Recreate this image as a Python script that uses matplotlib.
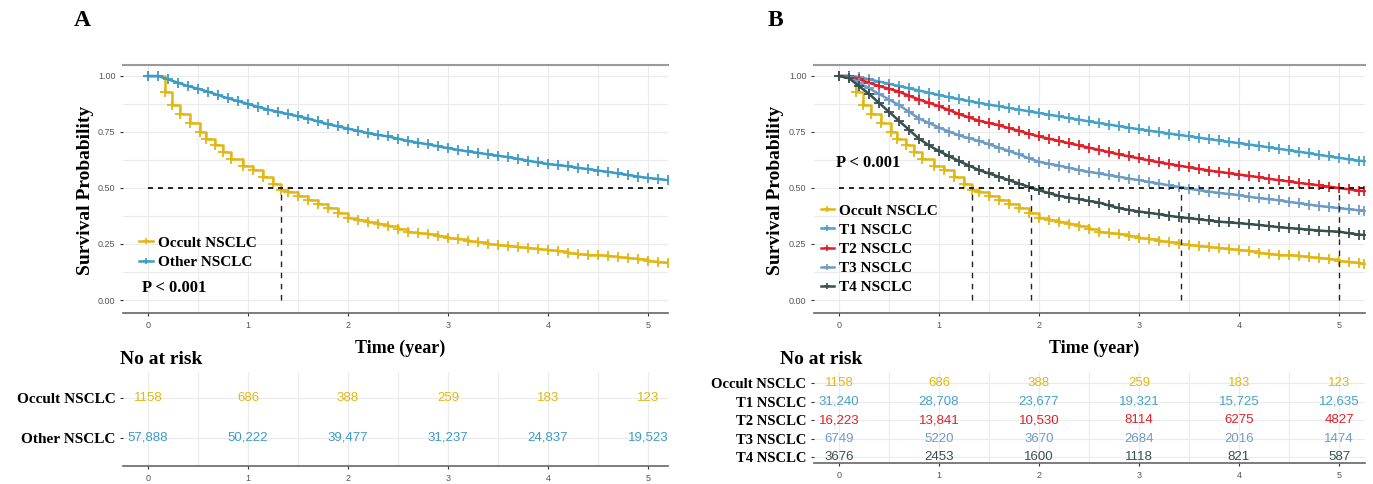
import matplotlib
matplotlib.use("Agg")
import matplotlib.pyplot as plt
from matplotlib.lines import Line2D

# ---- data ----
t_grid = [0.0, 0.1, 0.2, 0.3, 0.4, 0.5, 0.6, 0.7, 0.8, 0.9,
          1.0, 1.1, 1.2, 1.3, 1.4, 1.5, 1.6, 1.7, 1.8, 1.9,
          2.0, 2.1, 2.2, 2.3, 2.4, 2.5, 2.6, 2.7, 2.8, 2.9,
          3.0, 3.1, 3.2, 3.3, 3.4, 3.5, 3.6, 3.7, 3.8, 3.9,
          4.0, 4.1, 4.2, 4.3, 4.4, 4.5, 4.6, 4.7, 4.8, 4.9,
          5.0, 5.1, 5.2, 5.25]

occult_t = [0, 0.17, 0.24, 0.32, 0.42, 0.52, 0.58, 0.67, 0.75, 0.83, 0.95, 1.05,
            1.15, 1.25, 1.33, 1.4, 1.5, 1.6, 1.7, 1.8, 1.9, 2.0, 2.1, 2.2, 2.3,
            2.4, 2.5, 2.6, 2.7, 2.8, 2.9, 3.0, 3.1, 3.2, 3.3, 3.4, 3.5, 3.6, 3.7,
            3.8, 3.9, 4.0, 4.1, 4.2, 4.3, 4.4, 4.5, 4.6, 4.7, 4.8, 4.9, 5.0, 5.1,
            5.2, 5.25]
occult_s = [1.0, 0.93, 0.87, 0.83, 0.79, 0.75, 0.72, 0.69, 0.66, 0.63, 0.60, 0.58,
            0.55, 0.52, 0.49, 0.48, 0.465, 0.445, 0.43, 0.41, 0.39, 0.365, 0.357,
            0.35, 0.34, 0.33, 0.317, 0.305, 0.30, 0.295, 0.287, 0.278, 0.271,
            0.265, 0.258, 0.252, 0.247, 0.242, 0.237, 0.232, 0.227, 0.222, 0.217,
            0.212, 0.207, 0.203, 0.199, 0.195, 0.19, 0.186, 0.181, 0.176, 0.17,
            0.164, 0.162]

other_s = [1.0, 1.0, 0.985, 0.97, 0.955, 0.943, 0.93, 0.915, 0.90, 0.888,
           0.875, 0.862, 0.85, 0.84, 0.83, 0.82, 0.81, 0.797, 0.785, 0.775,
           0.765, 0.755, 0.745, 0.737, 0.73, 0.72, 0.71, 0.702, 0.695, 0.686,
           0.678, 0.67, 0.663, 0.657, 0.65, 0.644, 0.638, 0.63, 0.622, 0.614,
           0.607, 0.602, 0.597, 0.59, 0.584, 0.578, 0.572, 0.565, 0.558, 0.551,
           0.545, 0.54, 0.535, 0.533]
t1_s = [1.0, 1.0, 0.995, 0.985, 0.975, 0.965, 0.955, 0.945, 0.935, 0.925,
        0.915, 0.905, 0.897, 0.888, 0.88, 0.872, 0.865, 0.857, 0.85, 0.842,
        0.835, 0.827, 0.82, 0.812, 0.805, 0.797, 0.79, 0.783, 0.776, 0.769,
        0.762, 0.756, 0.75, 0.743, 0.737, 0.731, 0.725, 0.718, 0.712, 0.706,
        0.70, 0.694, 0.688, 0.681, 0.675, 0.668, 0.662, 0.655, 0.648, 0.641,
        0.635, 0.628, 0.622, 0.62]
t2_s = [1.0, 1.0, 0.985, 0.97, 0.955, 0.943, 0.93, 0.912, 0.895, 0.88,
        0.865, 0.848, 0.83, 0.815, 0.80, 0.79, 0.78, 0.767, 0.755, 0.742,
        0.73, 0.72, 0.71, 0.70, 0.69, 0.68, 0.67, 0.66, 0.65, 0.641,
        0.632, 0.623, 0.615, 0.607, 0.60, 0.592, 0.585, 0.578, 0.572, 0.566,
        0.56, 0.554, 0.548, 0.541, 0.535, 0.529, 0.523, 0.517, 0.512, 0.506,
        0.50, 0.494, 0.488, 0.486]
t3_s = [1.0, 0.995, 0.97, 0.945, 0.92, 0.895, 0.87, 0.84, 0.81, 0.79,
        0.77, 0.752, 0.735, 0.722, 0.71, 0.695, 0.68, 0.665, 0.65, 0.632,
        0.617, 0.608, 0.60, 0.59, 0.58, 0.572, 0.565, 0.557, 0.55, 0.542,
        0.535, 0.527, 0.52, 0.512, 0.505, 0.497, 0.49, 0.484, 0.478, 0.473,
        0.468, 0.461, 0.455, 0.45, 0.445, 0.438, 0.432, 0.426, 0.42, 0.415,
        0.41, 0.405, 0.40, 0.398]
t4_s = [1.0, 0.99, 0.955, 0.92, 0.88, 0.84, 0.80, 0.76, 0.72, 0.69,
        0.665, 0.642, 0.62, 0.60, 0.58, 0.565, 0.55, 0.535, 0.52, 0.505,
        0.49, 0.477, 0.465, 0.457, 0.45, 0.442, 0.435, 0.422, 0.41, 0.402,
        0.395, 0.389, 0.383, 0.376, 0.37, 0.365, 0.36, 0.355, 0.35, 0.346,
        0.343, 0.339, 0.335, 0.33, 0.325, 0.321, 0.318, 0.314, 0.31, 0.307,
        0.305, 0.298, 0.292, 0.29]

medians_a = [1.33]
medians_b = [1.33, 1.92, 3.42, 5.0]

risk_times = [0, 1, 2, 3, 4, 5]
groups_a = ["Occult NSCLC", "Other NSCLC"]
risk_a = [["1158", "686", "388", "259", "183", "123"],
          ["57,888", "50,222", "39,477", "31,237", "24,837", "19,523"]]
groups_b = ["Occult NSCLC", "T1 NSCLC", "T2 NSCLC", "T3 NSCLC", "T4 NSCLC"]
risk_b = [["1158", "686", "388", "259", "183", "123"],
          ["31,240", "28,708", "23,677", "19,321", "15,725", "12,635"],
          ["16,223", "13,841", "10,530", "8114", "6275", "4827"],
          ["6749", "5220", "3670", "2684", "2016", "1474"],
          ["3676", "2453", "1600", "1118", "821", "587"]]

c_occ = "#E2B714"
c_oth = "#3D9CC6"
c_t1 = "#46A2C8"
c_t2 = "#E0202A"
c_t3 = "#6E9CC4"
c_t4 = "#37504F"

W, H = 1373, 484
SERIF = "Liberation Serif"
NARROW = ["Liberation Sans Narrow", "Liberation Sans", "DejaVu Sans"]

fig = plt.figure(figsize=(W / 100, H / 100), dpi=100)


def px_axes(l, t, r, b):
    return fig.add_axes([l / W, 1 - b / H, (r - l) / W, (b - t) / H])


def style_axes(ax, xlim, ylim):
    ax.set_xlim(*xlim)
    ax.set_ylim(*ylim)
    for s in ["left", "right"]:
        ax.spines[s].set_visible(False)
    ax.spines["bottom"].set_color("#666666")
    ax.spines["bottom"].set_linewidth(1.2)
    ax.spines["top"].set_color("#9a9a9a")
    ax.spines["top"].set_linewidth(1.5)
    ax.set_xticks(risk_times)
    ax.set_xticks([0.5, 1.5, 2.5, 3.5, 4.5], minor=True)
    ax.grid(True, which="both", color="#ebebeb", lw=0.8)
    ax.set_axisbelow(True)
    ax.tick_params(which="minor", length=0)
    ax.tick_params(which="major", length=2.5, width=0.8, color="#333333",
                   labelsize=6.5, labelcolor="#555555", pad=3)
    for lab in ax.get_xticklabels() + ax.get_yticklabels():
        lab.set_family(NARROW)


def km(ax, t, s, color, steps):
    ax.plot(t, s, drawstyle="steps-post" if steps else "default", color=color,
            lw=1.8, marker="+", ms=6.5, mew=1.3, zorder=3)


def surv_panel(l, r, x0, curves, medians, leg_labels, leg_anchor, p_xy, letter):
    ax = px_axes(l, 65, r, 313)
    xmin = -(x0 - l) / 100.0
    xmax = (r - x0) / 100.0
    style_axes(ax, (xmin, xmax), (-0.058, 1.049))
    ax.set_yticks([0, 0.25, 0.5, 0.75, 1.0])
    ax.set_yticklabels(["0.00", "0.25", "0.50", "0.75", "1.00"])
    ax.set_yticks([0.125, 0.375, 0.625, 0.875], minor=True)
    for lab in ax.get_xticklabels() + ax.get_yticklabels():
        lab.set_family(NARROW)
    for i, (t, s, c) in enumerate(curves):
        km(ax, t, s, c, i == 0)
    ax.plot([0, xmax], [0.5, 0.5], ls=(0, (3, 3)), color="black", lw=1.2, zorder=4)
    for m in medians:
        ax.plot([m, m], [0, 0.5], ls=(0, (4, 4)), color="#222222", lw=1.0, zorder=4)
    handles = [Line2D([], [], color=c, lw=1.8, marker="+", ms=5, mew=1.2)
               for _, _, c in curves]
    ax.legend(handles, leg_labels, loc="upper left", bbox_to_anchor=leg_anchor,
              frameon=False, handlelength=0.9, handletextpad=0.3,
              labelspacing=0.36, borderpad=0, borderaxespad=0,
              prop={"family": SERIF, "weight": "bold", "size": 11})
    fig.text(p_xy[0] / W, 1 - p_xy[1] / H, "P < 0.001", family=SERIF,
             weight="bold", size=12, va="center", ha="left")
    fig.text((l - 38) / W, 1 - 190 / H, "Survival Probability", family=SERIF,
             weight="bold", size=14, rotation=90, va="center", ha="center")
    fig.text(((l + r) / 2 + 5) / W, 1 - 348 / H, "Time (year)", family=SERIF,
             weight="bold", size=13, va="center", ha="center")
    fig.text(letter[1] / W, 1 - 20 / H, letter[0], family=SERIF, weight="bold",
             size=17, va="center", ha="center")
    return ax


def risk_panel(l, r, x0, top, bottom, ylim, groups, rows, colors, label_size, title_xy):
    ax = px_axes(l, top, r, bottom)
    xmin = -(x0 - l) / 100.0
    xmax = (r - x0) / 100.0
    style_axes(ax, (xmin, xmax), ylim)
    ax.spines["top"].set_visible(False)
    n = len(groups)
    ypos = list(range(n, 0, -1))
    ax.set_yticks(ypos)
    ax.set_yticklabels(groups)
    ax.tick_params(axis="y", which="major", labelcolor="black", labelsize=label_size)
    for lab in ax.get_yticklabels():
        lab.set_family(SERIF)
        lab.set_weight("bold")
    for yy, row, c in zip(ypos, rows, colors):
        for tt, txt in zip(risk_times, row):
            ax.text(tt, yy, txt, color=c, ha="center", va="center", size=9.5,
                    family=NARROW)
    fig.text(title_xy[0] / W, 1 - title_xy[1] / H, "No at risk", family=SERIF,
             weight="bold", size=14, va="center", ha="left")
    return ax


surv_panel(123, 668, 148,
           [(occult_t, occult_s, c_occ), (t_grid, other_s, c_oth)],
           medians_a, ["Occult NSCLC", "Other NSCLC"], (0.03, 0.31),
           (142, 288), ("A", 82))
surv_panel(814, 1365, 839,
           [(occult_t, occult_s, c_occ), (t_grid, t1_s, c_t1), (t_grid, t2_s, c_t2),
            (t_grid, t3_s, c_t3), (t_grid, t4_s, c_t4)],
           medians_b, groups_b, (0.012, 0.44), (836, 163), ("B", 775))

risk_panel(123, 668, 148, 372, 466, (0.3, 2.65), groups_a, risk_a,
           [c_occ, c_oth], 11, (120, 360))
risk_panel(814, 1365, 839, 372, 463, (0.68, 5.6), groups_b, risk_b,
           [c_occ, c_t1, c_t2, c_t3, c_t4], 10.5, (780, 360))

fig.savefig("out.png", dpi=100)
